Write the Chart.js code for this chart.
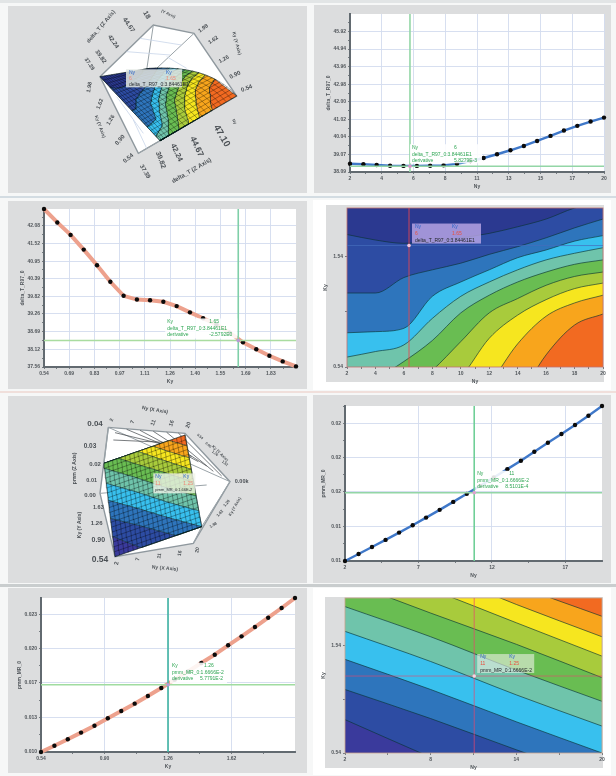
<!DOCTYPE html>
<html>
<head>
<title>Response surface panels</title>
<meta charset="utf-8">
<style>
  html, body { margin: 0; padding: 0; background: #fff; }
  #page { position: relative; width: 616px; height: 776px; overflow: hidden; background: #f6f7f7; }
  .panel, .inner, .bar { position: absolute; }
  .bar { left: 0; width: 616px; }
  .panel { background: #dcddde; }
  .panel.white { background: #fff; }
  .inner { background: #dcddde; }
  canvas { position: absolute; filter: blur(0.55px); }
</style>
<script src="https://cdn.jsdelivr.net/npm/chart.js"></script>
</head>
<body>
<div id="page">
  <div class="bar" style="top:0;height:3px;background:#e2e5e6"></div>
  <div class="bar" style="top:196px;height:2px;background:#d3dce2"></div>
  <div class="bar" style="top:391px;height:2px;background:#f0dfdb"></div>
  <div class="bar" style="top:584px;height:3px;background:#c9cdce"></div>
</div>
<script>
// sweep values shared by the line charts
const nySweep = [2, 2.95, 3.89, 4.84, 5.79, 6.74, 7.68, 8.63, 9.58, 10.53, 11.47, 12.42, 13.37, 14.32, 15.26, 16.21, 17.16, 18.11, 19.05, 20];
const kySweep = [0.54, 0.616, 0.692, 0.767, 0.843, 0.919, 0.995, 1.071, 1.146, 1.222, 1.298, 1.374, 1.449, 1.525, 1.601, 1.677, 1.753, 1.828, 1.904, 1.98];

const deltaTvsNy = [38.55, 38.52, 38.48, 38.44, 38.43, 38.43, 38.44, 38.46, 38.55, 38.70, 38.87, 39.08, 39.30, 39.54, 39.82, 40.10, 40.40, 40.66, 40.90, 41.12];
const deltaTvsKy = [42.62, 42.19, 41.79, 41.32, 40.82, 40.29, 39.84, 39.72, 39.70, 39.65, 39.51, 39.31, 39.12, 38.92, 38.66, 38.35, 38.13, 37.92, 37.74, 37.58];
const pmmVsNy = [0.0100, 0.01068, 0.01136, 0.01204, 0.01275, 0.01346, 0.01420, 0.01495, 0.01572, 0.01650, 0.01727, 0.01808, 0.01889, 0.01970, 0.02057, 0.02144, 0.02229, 0.02316, 0.02406, 0.02500];
const pmmVsKy = [0.0100, 0.01061, 0.01123, 0.01188, 0.01255, 0.01327, 0.01398, 0.01469, 0.01543, 0.01621, 0.01702, 0.01782, 0.01863, 0.01944, 0.02035, 0.02122, 0.02212, 0.02303, 0.02397, 0.02494];

// tick values and labels
const ny9Ticks = [2, 4.25, 6.5, 8.75, 11, 13.25, 15.5, 17.75, 20];
const ny9Labels = ['2', '4', '6', '8', '11', '13', '15', '17', '20'];
const ny4Ticks = [2, 7.14, 12.29, 17.43];
const ny4Labels = ['2', '7', '12', '17'];
const ny10Ticks = [2, 4, 6, 8, 10, 12, 14, 16, 18, 20];
const ny10Labels = ['2', '4', '6', '8', '10', '12', '14', '16', '18', '20'];
const nyWideTicks = [2, 8, 14, 20];
const nyWideLabels = ['2', '8', '14', '20'];
const kyFineTicks = [0.54, 0.684, 0.828, 0.972, 1.116, 1.26, 1.404, 1.548, 1.692, 1.836];
const kyFineLabels = ['0.54', '0.69', '0.83', '0.97', '1.11', '1.26', '1.40', '1.55', '1.69', '1.83'];
const kyWideTicks = [0.54, 0.9, 1.26, 1.62];
const kyWideLabels = ['0.54', '0.90', '1.26', '1.62'];
const kyMapTicks = [0.54, 1.54];
const kyMapLabels = ['0.54', '1.54'];
const dtNyTicks = [38.09, 39.07, 40.04, 41.02, 42.00, 42.98, 43.96, 44.94, 45.92];
const dtNyLabels = ['38.09', '39.07', '40.04', '41.02', '42.00', '42.98', '43.96', '44.94', '45.92'];
const dtKyTicks = [37.56, 38.12, 38.69, 39.26, 39.82, 40.39, 40.95, 41.52, 42.08];
const dtKyLabels = ['37.56', '38.12', '38.69', '39.26', '39.82', '40.39', '40.95', '41.52', '42.08'];
const pmmTicks = [0.010, 0.0133, 0.0167, 0.020, 0.0233];
const pmmShortLabels = ['0.01', '0.01', '0.02', '0.02', '0.02'];
const pmmLongLabels = ['0.010', '0.013', '0.017', '0.020', '0.023'];

// contour lines of delta_T: Ky reached by each contour at the Ny values of dtContourNy
const dtContourNy = [2, 4, 6, 8, 10, 12, 14, 16, 18, 20];
const dtContour1 = [1.74, 1.69, 1.66, 1.68, 1.71, 1.75, 1.81, 1.88, 1.98, 2.04];
const dtContour2 = [1.21, 1.21, 1.35, 1.42, 1.48, 1.56, 1.63, 1.71, 1.80, 1.88];
const dtContour3 = [0.85, 0.86, 0.89, 1.18, 1.31, 1.42, 1.53, 1.60, 1.68, 1.73];
const dtContour4 = [0.63, 0.68, 0.74, 0.98, 1.18, 1.31, 1.42, 1.51, 1.57, 1.62];
const dtContour5 = [0.31, 0.43, 0.59, 0.78, 1.03, 1.19, 1.31, 1.40, 1.47, 1.51];
const dtContour6 = [-0.02, 0.16, 0.31, 0.51, 0.77, 1.03, 1.16, 1.28, 1.36, 1.40];
const dtContour7 = [-0.32, -0.08, 0.13, 0.28, 0.45, 0.80, 1.01, 1.15, 1.25, 1.30];
const dtContour8 = [-0.78, -0.48, -0.26, -0.02, 0.16, 0.39, 0.75, 1.00, 1.12, 1.19];
const dtContour9 = [-1.23, -0.93, -0.69, -0.48, -0.26, -0.02, 0.25, 0.65, 0.92, 1.02];

// contour lines of pmm_MR_0
const pmmContourNy = [2, 8, 14, 20];
const pmmContour1 = [2.68, 2.43, 2.10, 1.81];
const pmmContour2 = [2.49, 2.24, 1.92, 1.62];
const pmmContour3 = [2.34, 2.06, 1.75, 1.44];
const pmmContour4 = [2.14, 1.84, 1.55, 1.24];
const pmmContour5 = [1.90, 1.62, 1.31, 1.02];
const pmmContour6 = [1.67, 1.39, 1.08, 0.79];
const pmmContour7 = [1.41, 1.13, 0.83, 0.54];
const pmmContour8 = [1.13, 0.86, 0.57, 0.29];
const pmmContour9 = [0.85, 0.50, 0.16, -0.18];

const dtColors = ['#2b3990', '#2d4ca3', '#2e75bc', '#38c0ee', '#6fc4ab', '#69bd52', '#a8cb3c', '#f6e61f', '#f8a51c', '#f26a21'];
const pmmColors = ['#f26a21', '#f8a51c', '#f6e61f', '#a8cb3c', '#69bd52', '#6fc4ab', '#38c0ee', '#2e75bc', '#2d4ca3', '#3a3a9c'];

const KY_MIN = 0.54, KY_MAX = 1.98, AXIS_W = 24, AXIS_H = 18;
const FONT = '"Liberation Sans", Arial, sans-serif';
const page = document.getElementById('page');

Chart.defaults.font.family = FONT;
Chart.defaults.animation = false;

// white plot background, drawn before the grid
const plotBack = {
  id: 'plotBack',
  beforeDraw(chart, args, opts) {
    if (!opts.color) return;
    const a = chart.chartArea, c = chart.ctx;
    c.save();
    c.fillStyle = opts.color;
    c.fillRect(a.left, a.top, a.right - a.left, a.bottom - a.top);
    c.restore();
  },
  afterDatasetsDraw(chart, args, opts) {
    if (!opts.frame) return;
    const a = chart.chartArea, c = chart.ctx;
    c.save();
    c.strokeStyle = opts.frame;
    c.lineWidth = 0.8;
    c.strokeRect(a.left, a.top, a.right - a.left, a.bottom - a.top);
    c.restore();
  }
};

function drawRows(c, x, y, rows) {
  rows.forEach(r => {
    c.fillStyle = r.c;
    c.font = (r.s || 5) + 'px ' + FONT;
    c.fillText(r.t, x + r.dx, y + r.dy);
  });
}

// crosshair and read-out box of the 2D charts
const crosshair = {
  id: 'crosshair',
  afterDatasetsDraw(chart, args, o) {
    if (!o.x) return;
    const c = chart.ctx, a = chart.chartArea;
    const px = chart.scales.x.getPixelForValue(o.x), py = chart.scales.y.getPixelForValue(o.y);
    c.save();
    c.lineWidth = o.width || 1.6;
    c.strokeStyle = o.vColor;
    c.beginPath(); c.moveTo(px, a.top); c.lineTo(px, a.bottom); c.stroke();
    c.strokeStyle = o.hColor;
    c.beginPath(); c.moveTo(a.left, py); c.lineTo(a.right, py); c.stroke();
    c.fillStyle = o.box.color;
    c.fillRect(px + o.box.dx, py + o.box.dy, o.box.w, o.box.h);
    c.textBaseline = 'middle';
    drawRows(c, px + o.box.dx, py + o.box.dy, o.box.rows);
    c.fillStyle = o.dot;
    c.beginPath(); c.arc(px, py, 1.8, 0, Math.PI * 2); c.fill();
    c.restore();
  }
};

// rotated axis text and read-out box of the 3D views
const viewText = {
  id: 'viewText',
  afterDatasetsDraw(chart, args, o) {
    if (!o.texts) return;
    const c = chart.ctx, sx = chart.scales.x, sy = chart.scales.y;
    c.save();
    c.textAlign = 'center';
    c.textBaseline = 'middle';
    o.texts.forEach(t => {
      c.save();
      c.translate(sx.getPixelForValue(t[1]), sy.getPixelForValue(t[2]));
      c.rotate(t[3] * Math.PI / 180);
      c.font = 'bold ' + t[4] + 'px ' + FONT;
      c.fillStyle = '#4b5055';
      c.fillText(t[0], 0, 0);
      c.restore();
    });
    const b = o.box, x = sx.getPixelForValue(b.x), y = sy.getPixelForValue(b.y);
    c.fillStyle = b.color;
    c.fillRect(x, y, b.w, b.h);
    c.textAlign = 'left';
    drawRows(c, x, y, b.rows);
    c.restore();
  }
};

function makePanel(rect, white, inner) {
  const d = document.createElement('div');
  d.className = 'panel' + (white ? ' white' : '');
  d.style.cssText = `left:${rect.x}px;top:${rect.y}px;width:${rect.w}px;height:${rect.h}px`;
  page.appendChild(d);
  if (inner) {
    const i = document.createElement('div');
    i.className = 'inner';
    i.style.cssText = `left:${inner.x}px;top:${inner.y}px;width:${inner.w}px;height:${inner.h}px`;
    page.appendChild(i);
  }
  const cv = document.createElement('canvas');
  cv.width = rect.w; cv.height = rect.h;
  cv.style.cssText = `left:${rect.x}px;top:${rect.y}px;width:${rect.w}px;height:${rect.h}px`;
  page.appendChild(cv);
  return cv;
}

function axis(min, max, majors, labels, title, isY, axisLine) {
  const minors = majors.slice(0, -1).map((v, i) => (v + majors[i + 1]) / 2);
  const last = majors[majors.length - 1];
  if (max > last) minors.push((last + (last + majors[1] - majors[0])) / 2);
  const all = majors.concat(minors.filter(v => v < max));
  return {
    type: 'linear', min, max,
    afterBuildTicks: s => { s.ticks = all.map(value => ({ value })); },
    afterFit: s => { if (isY) s.width = AXIS_W; else s.height = AXIS_H; },
    border: axisLine ? { color: '#626a70', width: 2 } : { display: false },
    grid: {
      color: ctx => (ctx.tick && majors.includes(ctx.tick.value) && axisLine ? '#d3dbee' : 'rgba(0,0,0,0)'),
      lineWidth: 0.9, tickColor: '#6a7076', tickLength: 2
    },
    ticks: {
      autoSkip: false, maxRotation: 0, minRotation: 0, padding: 2, color: '#51565b',
      font: { size: 5, weight: 'bold' },
      callback: v => { const i = majors.indexOf(v); return i < 0 ? '' : labels[i]; }
    },
    title: { display: true, text: title, color: '#51565b', padding: 0, font: { size: 5, weight: 'bold' } }
  };
}

function chart2d(rect, plot, datasets, xAxis, yAxis, back, cross, white, inner) {
  const cv = makePanel(rect, white, inner);
  return new Chart(cv, {
    type: 'scatter',
    data: { datasets },
    plugins: [plotBack, crosshair],
    options: {
      responsive: false,
      layout: {
        autoPadding: false,
        padding: {
          left: plot.x - rect.x - AXIS_W, top: plot.y - rect.y,
          right: rect.x + rect.w - plot.x2, bottom: rect.y + rect.h - plot.y2 - AXIS_H
        }
      },
      scales: { x: xAxis, y: yAxis },
      plugins: { legend: { display: false }, tooltip: { enabled: false }, plotBack: back, crosshair: cross }
    }
  });
}

function sweepSet(xs, ys, color, width) {
  return {
    data: xs.map((x, i) => ({ x, y: ys[i] })), showLine: true, clip: false,
    borderColor: color, borderWidth: width,
    pointRadius: 2.2, pointBackgroundColor: '#0b0b0b', pointBorderWidth: 0
  };
}

function contourSets(xs, curves, colors) {
  const sets = [{
    data: xs.map(x => ({ x, y: KY_MAX })), showLine: true, fill: 'start',
    backgroundColor: colors[0], borderWidth: 0, pointRadius: 0, order: 30
  }];
  curves.forEach((curve, i) => sets.push({
    data: xs.map((x, j) => ({ x, y: curve[j] })), showLine: true, fill: 'start', cubicInterpolationMode: 'monotone',
    backgroundColor: colors[i + 1], borderColor: 'rgba(10,50,50,0.8)', borderWidth: 0.8, pointRadius: 0, order: 29 - i
  }));
  return sets;
}

function lineRows(first, firstValue, second, secondValue, third, thirdValue, valueDx) {
  const g = '#2ea653';
  return [
    { t: first, dx: 2, dy: 3, c: g }, { t: firstValue, dx: valueDx, dy: 3, c: g },
    { t: second, dx: 2, dy: 10, c: g }, { t: secondValue, dx: valueDx - 4, dy: 10, c: g },
    { t: third, dx: 2, dy: 16, c: g }, { t: thirdValue, dx: valueDx, dy: 16, c: g }
  ];
}

function mapRows(name, nyValue, kyValue, series, gap) {
  return [
    { t: 'Ny', dx: 3, dy: 3, c: '#2a63c8' }, { t: 'Ky', dx: gap, dy: 3, c: '#2a63c8' },
    { t: nyValue, dx: 3, dy: 10, c: '#e8503f' }, { t: kyValue, dx: gap, dy: 10, c: '#e8503f' },
    { t: name + ':' + series, dx: 3, dy: 17, c: '#22262a' }
  ];
}

// panel 2: delta_T against Ny
chart2d({ x: 314, y: 5, w: 297, h: 188 }, { x: 350, y: 14, x2: 604, y2: 172 },
  [sweepSet(nySweep, deltaTvsNy, '#3f78c9', 2.4)],
  axis(2, 20, ny9Ticks, ny9Labels, 'Ny', false, true),
  axis(38.09, 46.89, dtNyTicks, dtNyLabels, 'delta_T_R97_0', true, true),
  { color: '#fff' },
  { x: 6.25, y: 38.41, vColor: '#93d6a6', hColor: '#93d6a6', dot: '#d890c8', box: {
    dx: 0, dy: -22, w: 72, h: 19, color: 'rgba(255,255,255,0.88)',
    rows: lineRows('Ny', '6', 'delta_T_R97_0:3.84461E1', '', 'derivative', '5.8279E-3', 44) } });

// panel 3: delta_T against Ky
chart2d({ x: 8, y: 201, w: 299, h: 188 }, { x: 44, y: 209, x2: 296, y2: 367 },
  [sweepSet(kySweep, deltaTvsKy, '#eda18d', 4)],
  axis(0.54, 1.98, kyFineTicks, kyFineLabels, 'Ky', false, true),
  axis(37.56, 42.62, dtKyTicks, dtKyLabels, 'delta_T_R97_0', true, true),
  { color: '#fff' },
  { x: 1.65, y: 38.41, vColor: '#7fcfa8', hColor: '#a9dc9f', dot: '#b79ad8', box: {
    dx: -73, dy: -22, w: 72, h: 20, color: 'rgba(255,255,255,0.88)',
    rows: lineRows('Ky', '1.65', 'delta_T_R97_0:3.84461E1', '', 'derivative', '-2.5792E0', 44) } });

// panel 4: delta_T contour map
chart2d({ x: 313, y: 200, w: 298, h: 190 }, { x: 347, y: 208, x2: 603, y2: 367 },
  contourSets(dtContourNy, [dtContour1, dtContour2, dtContour3, dtContour4, dtContour5, dtContour6, dtContour7, dtContour8, dtContour9], dtColors),
  axis(2, 20, ny10Ticks, ny10Labels, 'Ny', false, false),
  axis(KY_MIN, KY_MAX, kyMapTicks, kyMapLabels, 'Ky', true, false),
  { frame: '#c2706e' },
  { x: 6.36, y: 1.64, vColor: 'rgba(232,70,80,0.85)', hColor: 'rgba(70,110,190,0.7)', dot: '#f6c6da', width: 1, box: {
    dx: 3, dy: -22, w: 69, h: 20, color: 'rgba(190,170,232,0.8)',
    rows: mapRows('delta_T_R97_0', '6', '1.65', '3.84461E1', 40) } },
  true, { x: 326, y: 205, w: 278, h: 177 });

// panel 6: pmm against Ny
chart2d({ x: 313, y: 395, w: 298, h: 188 }, { x: 345, y: 406, x2: 602, y2: 561 },
  [sweepSet(nySweep, pmmVsNy, '#3f78c9', 2.4)],
  axis(2, 20, ny4Ticks, ny4Labels, 'Ny', false, true),
  axis(0.010, 0.025, pmmTicks, pmmShortLabels, 'pmm_MR_0', true, true),
  { color: '#fff' },
  { x: 11.05, y: 0.0166, vColor: '#6fcf97', hColor: '#93d6a6', dot: '#e0a0d0', box: {
    dx: 1, dy: -22, w: 58, h: 20, color: 'rgba(255,255,255,0.88)',
    rows: lineRows('Ny', '11', 'pmm_MR_0:1.6666E-2', '', 'derivative', '', 34).concat([{ t: '8.5101E-4', dx: 30, dy: 16, c: '#2ea653' }]) } });

// panel 7: pmm against Ky
chart2d({ x: 8, y: 588, w: 299, h: 185 }, { x: 41, y: 598, x2: 295, y2: 752 },
  [sweepSet(kySweep, pmmVsKy, '#eda18d', 4)],
  axis(0.54, 1.98, kyWideTicks, kyWideLabels, 'Ky', false, true),
  axis(0.010, 0.02494, pmmTicks, pmmLongLabels, 'pmm_MR_0', true, true),
  { color: '#fff' },
  { x: 1.26, y: 0.01653, vColor: '#3fb3a3', hColor: '#a0dca0', dot: '#b79ad8', box: {
    dx: 2, dy: -22, w: 57, h: 21, color: 'rgba(255,255,255,0.88)',
    rows: lineRows('Ky', '1.26', 'pmm_MR_0:1.6666E-2', '', 'derivative', '', 34).concat([{ t: '5.7791E-2', dx: 30, dy: 16, c: '#2ea653' }]) } });

// panel 8: pmm contour map
chart2d({ x: 313, y: 588, w: 298, h: 187 }, { x: 345, y: 598, x2: 602, y2: 753 },
  contourSets(pmmContourNy, [pmmContour1, pmmContour2, pmmContour3, pmmContour4, pmmContour5, pmmContour6, pmmContour7, pmmContour8, pmmContour9], pmmColors),
  axis(2, 20, nyWideTicks, nyWideLabels, 'Ny', false, false),
  axis(KY_MIN, KY_MAX, kyMapTicks, kyMapLabels, 'Ky', true, false),
  { frame: '#c9a28c' },
  { x: 11.05, y: 1.255, vColor: 'rgba(232,70,110,0.7)', hColor: 'rgba(232,70,110,0.6)', dot: '#f9d5e5', width: 1, box: {
    dx: 3, dy: -22, w: 57, h: 19, color: 'rgba(236,240,232,0.6)',
    rows: mapRows('pmm_MR_0', '11', '1.25', '1.6666E-2', 32) } },
  true, { x: 325, y: 597, w: 278, h: 171 });

// ---- 3D views: the surface is projected from (Ny, Ky) through four corner points ----
function project(view, ny, ky) {
  const u = Math.pow((ny - 2) / 18, view.bend), v = (KY_MAX - ky) / (KY_MAX - KY_MIN);
  const c = view.corners, w = [(1 - u) * (1 - v), u * (1 - v), u * v, (1 - u) * v];
  const sag = u * 4 * v * (1 - v);
  return {
    x: w[0] * c[0][0] + w[1] * c[1][0] + w[2] * c[2][0] + w[3] * c[3][0] + sag * view.sag[0],
    y: w[0] * c[0][1] + w[1] * c[1][1] + w[2] * c[2][1] + w[3] * c[3][1] + sag * view.sag[1]
  };
}

function polyline(pts, color, width, fill) {
  return {
    data: pts.map(p => ({ x: p[0], y: p[1] })), showLine: true, pointRadius: 0,
    borderColor: color, borderWidth: width, fill: fill ? 'shape' : false, backgroundColor: fill || undefined
  };
}

function bandSets(view, xs, curves, colors) {
  // sample along the contour so that clamping follows the surface edge
  const clampKy = k => Math.min(KY_MAX, Math.max(KY_MIN, k));
  const along = curve => {
    const pts = [];
    for (let j = 0; j < xs.length - 1; j++) {
      for (let s = 0; s < 12; s++) {
        const f = s / 12;
        pts.push([xs[j] + (xs[j + 1] - xs[j]) * f, clampKy(curve[j] + (curve[j + 1] - curve[j]) * f)]);
      }
    }
    pts.push([xs[xs.length - 1], clampKy(curve[xs.length - 1])]);
    return pts;
  };
  const edges = [xs.map(() => KY_MAX)].concat(curves, [xs.map(() => KY_MIN)]).map(along);
  return colors.map((color, i) => {
    const ring = edges[i].concat(edges[i + 1].slice().reverse());
    ring.push(ring[0]);
    return polyline(ring.map(p => { const q = project(view, p[0], p[1]); return [q.x, q.y]; }), 'rgba(5,40,40,0.75)', 0.6, color);
  });
}

function meshSets(view) {
  const sets = [];
  nySweep.forEach(ny => sets.push(polyline(kySweep.map(ky => { const q = project(view, ny, ky); return [q.x, q.y]; }), 'rgba(0,0,0,0.55)', 0.6)));
  kySweep.forEach(ky => sets.push(polyline(nySweep.map(ny => { const q = project(view, ny, ky); return [q.x, q.y]; }), 'rgba(0,0,0,0.55)', 0.6)));
  return sets;
}

function chart3d(rect, crop, under, bands, mesh, texts, box) {
  const cv = makePanel(rect);
  const datasets = under.concat(bands, mesh);
  datasets.forEach((d, i) => { d.order = datasets.length - i; d.clip = false; });
  return new Chart(cv, {
    type: 'scatter',
    data: { datasets },
    plugins: [viewText],
    options: {
      responsive: false,
      layout: { autoPadding: false, padding: 0 },
      scales: {
        x: { display: false, min: (rect.x - crop.x) * 3, max: (rect.x + rect.w - crop.x) * 3 },
        y: { display: false, reverse: true, min: (rect.y - crop.y) * 3, max: (rect.y + rect.h - crop.y) * 3 }
      },
      plugins: { legend: { display: false }, tooltip: { enabled: false }, viewText: { texts, box } }
    }
  });
}

// panel 1: delta_T surface
const view1 = { corners: [[300, 230], [450, 205], [710, 288], [480, 422]], sag: [24, -26], bend: 1.3 };
const frame1 = [[300, 230], [460, 75], [582, 100], [710, 288], [415, 460], [300, 230]];
const frame1Lines = [
  [[582, 100], [470, 205]], [[480, 422], [415, 460]], [[460, 75], [440, 210]], [[300, 230], [480, 422]]
];
const frame1Faint = [
  [[380, 155], [510, 165]], [[420, 115], [545, 135]], [[500, 170], [560, 205]], [[350, 290], [430, 400]], [[400, 360], [440, 445]]
];
const text1 = [
  ['delta_T (Z Axis)', 303, 80, -50, 5.5], ['37.39', 268, 192, 55, 5.5], ['39.82', 302, 170, 55, 6], ['42.24', 340, 125, 55, 6], ['44.67', 386, 75, 55, 6.5],
  ['18', 440, 45, 60, 7], ['(Y Axis)', 505, 42, 25, 4], ['1.98', 610, 85, -35, 5.5], ['1.62', 640, 120, -35, 5.5], ['1.26', 672, 178, -30, 5.5], ['0.90', 705, 225, -25, 6], ['0.54', 740, 265, -20, 6],
  ['Ky (Y Axis)', 710, 130, 75, 4.5], ['1.98', 268, 262, -80, 5.5], ['1.62', 300, 312, -70, 5.5], ['1.26', 332, 360, -60, 5.5], ['0.90', 360, 420, -50, 6], ['0.54', 385, 475, -40, 6],
  ['Ky (Y Axis)', 300, 380, 70, 4.5], ['37.39', 435, 515, 60, 6], ['39.82', 482, 480, 70, 7], ['42.24', 530, 458, 65, 7.5], ['44.67', 590, 440, 65, 8.5], ['47.10', 665, 408, 60, 9.5],
  ['delta_T (Z Axis)', 575, 512, -30, 6], ['Ny', 703, 365, 60, 4]
];
chart3d({ x: 8, y: 6, w: 299, h: 187 }, { x: 0, y: 0 },
  [polyline(frame1, '#8f989e', 1.4, '#ffffff')]
    .concat(frame1Lines.map(l => polyline(l, '#9aa3a8', 1)))
    .concat(frame1Faint.map(l => polyline(l, '#c9d6ea', 0.8))),
  bandSets(view1, dtContourNy, [dtContour1, dtContour2, dtContour3, dtContour4, dtContour5, dtContour6, dtContour7, dtContour8, dtContour9], dtColors),
  meshSets(view1), text1,
  { x: 378, y: 208, w: 56, h: 18, color: 'rgba(226,232,226,0.86)', rows: [
    { t: 'Ny', dx: 3, dy: 3, c: '#2a63c8' }, { t: 'Ky', dx: 40, dy: 3, c: '#2a63c8' },
    { t: '6', dx: 3, dy: 9, c: '#f08a78' }, { t: '1.65', dx: 40, dy: 9, c: '#f08a78' },
    { t: 'delta_T_R97_0:3.84461E1', dx: 3, dy: 15, c: '#2a2e33' } ] });

// panel 5: pmm surface
const view5 = { corners: [[312, 220], [555, 135], [605, 410], [345, 500]], sag: [0, 0], bend: 1 };
const frame5 = [[325, 112], [555, 130], [690, 275], [580, 460], [345, 500], [300, 310], [325, 112]];
const frame5Lines = [
  [[325, 112], [312, 220]], [[325, 112], [690, 275]], [[300, 310], [620, 285]], [[605, 410], [690, 275]], [[580, 460], [605, 410]], [[555, 130], [605, 410]]
];
const frame5Hatch = [
  [[380, 118], [575, 200]], [[420, 121], [595, 215]], [[460, 124], [620, 228]], [[500, 127], [640, 244]], [[535, 129], [665, 258]],
  [[345, 128], [560, 180]], [[340, 150], [560, 160]]
];
const text5 = [
  ['Ny (X Axis)', 465, 60, 10, 5], ['2', 335, 90, -70, 5], ['7', 398, 96, -70, 5.5], ['11', 460, 98, -70, 5.5], ['16', 515, 100, -70, 5.5], ['20', 565, 105, -70, 5.5],
  ['0.04', 285, 100, 0, 8], ['0.03', 270, 168, 0, 6.5], ['0.02', 285, 222, 0, 6], ['0.01', 275, 270, 0, 5.5], ['0.00', 270, 315, 0, 6],
  ['1.63', 295, 352, 0, 5.5], ['1.26', 290, 400, 0, 6], ['0.90', 295, 450, 0, 7], ['0.54', 300, 510, 0, 8.5],
  ['pmm (Z Axis)', 225, 235, -90, 5], ['Ky (Y Axis)', 240, 405, -90, 5], ['Ny (X Axis)', 495, 535, 5, 5],
  ['2', 350, 520, -80, 6], ['7', 413, 508, -80, 5.5], ['11', 478, 498, -80, 5], ['16', 540, 490, -80, 5], ['20', 592, 480, -80, 5],
  ['0.00k', 725, 275, 0, 5.5], ['1.98', 640, 405, -30, 4], ['1.62', 660, 370, -50, 4], ['1.26', 680, 340, -50, 4], ['Ky (Y Axis)', 705, 350, -60, 4],
  ['Ky (Y Axis)', 660, 190, 45, 4], ['0.54', 600, 140, 40, 3.5], ['0.90', 625, 165, 40, 3.5], ['1.26', 645, 190, 40, 3.5], ['1.62', 675, 220, 40, 3.5]
];
chart3d({ x: 8, y: 396, w: 299, h: 187 }, { x: 0, y: 390 },
  [polyline(frame5, '#8f989e', 1.4, '#ffffff')]
    .concat(frame5Lines.map(l => polyline(l, '#9aa3a8', 1)))
    .concat(frame5Hatch.map(l => polyline(l, '#3f4448', 0.7))),
  bandSets(view5, pmmContourNy, [pmmContour1, pmmContour2, pmmContour3, pmmContour4, pmmContour5, pmmContour6, pmmContour7, pmmContour8, pmmContour9], pmmColors),
  meshSets(view5), text5,
  { x: 460, y: 250, w: 42, h: 20, color: 'rgba(240,244,232,0.8)', rows: [
    { t: 'Ny', dx: 2, dy: 3, c: '#2a63c8' }, { t: 'Ky', dx: 30, dy: 3, c: '#2a63c8' },
    { t: '11', dx: 2, dy: 10, c: '#f08a78' }, { t: '1.25', dx: 30, dy: 10, c: '#f08a78' },
    { t: 'pmm_MR_0:1.66E-2', dx: 2, dy: 17, c: '#2a2e33', s: 4 } ] });
</script>
</body>
</html>
